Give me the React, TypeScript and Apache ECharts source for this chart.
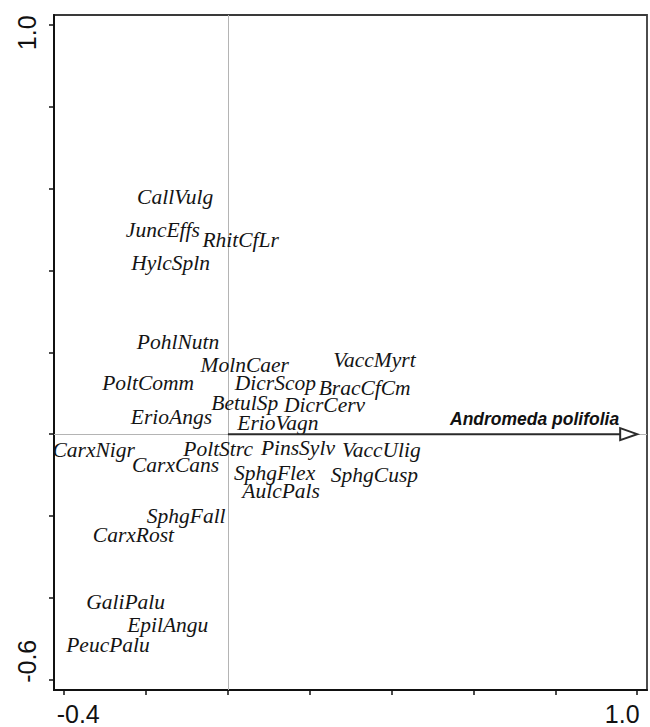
import React, { useEffect, useRef } from "react";
import * as echarts from "echarts";

// Species scores (axis 1, axis 2) shown as text labels
const speciesNames = [
  "CallVulg", "JuncEffs", "RhitCfLr", "HylcSpln", "PohlNutn", "MolnCaer",
  "PoltComm", "DicrScop", "BracCfCm", "VaccMyrt", "BetulSp", "DicrCerv",
  "ErioAngs", "ErioVagn", "CarxNigr", "PoltStrc", "CarxCans", "PinsSylv",
  "VaccUlig", "SphgFlex", "SphgCusp", "AulcPals", "SphgFall", "CarxRost",
  "GaliPalu", "EpilAngu", "PeucPalu",
];
const speciesX = [
  -0.129, -0.159, 0.031, -0.14, -0.122, 0.041,
  -0.195, 0.116, 0.334, 0.358, 0.041, 0.236,
  -0.138, 0.122, -0.328, -0.024, -0.128, 0.171,
  0.375, 0.114, 0.358, 0.13, -0.102, -0.231,
  -0.25, -0.147, -0.293,
];
const speciesY = [
  0.579, 0.498, 0.475, 0.419, 0.225, 0.169,
  0.125, 0.125, 0.112, 0.182, 0.076, 0.072,
  0.043, 0.027, -0.038, -0.037, -0.075, -0.034,
  -0.038, -0.095, -0.099, -0.138, -0.201, -0.246,
  -0.409, -0.466, -0.515,
];

// Explanatory variable arrow
const arrowNames = ["Andromeda polifolia"];
const arrowX = [1.0];
const arrowY = [0.0];

// Axis extents, ticks and the labelled tick values
const xRange = [-0.425, 1.024];
const yRange = [-0.625, 1.024];
const xTicks = [-0.4, -0.2, 0, 0.2, 0.4, 0.6, 0.8, 1.0];
const yTicks = [-0.6, -0.4, -0.2, 0, 0.2, 0.4, 0.6, 0.8, 1.0];
const xTickLabels = [-0.4, 1.0];
const yTickLabels = [-0.6, 1.0];

const SANS = "'Liberation Sans', Arial, sans-serif";
const SERIF = "'Liberation Serif', 'Times New Roman', serif";

export default function App() {
  const ref = useRef<HTMLDivElement>(null);

  useEffect(() => {
    if (!ref.current) return;
    const chart = echarts.init(ref.current, null, { renderer: "svg" });

    const option: any = {
      animation: false,
      backgroundColor: "#ffffff",
      grid: {
        left: 54,
        right: 3,
        top: 15,
        bottom: 37,
        show: true,
        borderColor: "#3a3a3a",
        borderWidth: 1.8,
        backgroundColor: "transparent",
      },
      xAxis: {
        type: "value",
        min: xRange[0],
        max: xRange[1],
        splitLine: { show: false },
        axisLine: {
          show: true,
          onZero: false,
          lineStyle: { color: "#111111", width: 2 },
        },
        axisTick: {
          show: true,
          customValues: xTicks,
          length: 5,
          lineStyle: { color: "#111111", width: 1.5 },
        },
        axisLabel: { show: false },
      },
      yAxis: {
        type: "value",
        min: yRange[0],
        max: yRange[1],
        splitLine: { show: false },
        axisLine: {
          show: true,
          onZero: false,
          lineStyle: { color: "#111111", width: 2 },
        },
        axisTick: {
          show: true,
          customValues: yTicks,
          length: 5,
          lineStyle: { color: "#111111", width: 1.5 },
        },
        axisLabel: { show: false },
      },
      series: [
        {
          // species names placed at their scores
          type: "custom",
          z: 3,
          encode: { x: 0, y: 1 },
          data: speciesNames.map((n, i) => [speciesX[i], speciesY[i]]),
          renderItem: (params: any, api: any) => {
            const p = api.coord([api.value(0), api.value(1)]);
            return {
              type: "text",
              x: p[0],
              y: p[1],
              style: {
                text: speciesNames[params.dataIndex],
                align: "center",
                verticalAlign: "middle",
                fontFamily: SERIF,
                fontStyle: "italic",
                fontSize: 21.5,
                fill: "#141414",
              },
            };
          },
          markLine: {
            silent: true,
            symbol: ["none", "none"],
            label: { show: false },
            lineStyle: { color: "#b4b4b4", width: 1, type: "solid", opacity: 1 },
            emphasis: { disabled: true },
            data: [{ xAxis: 0 }, { yAxis: 0 }],
            z: 1,
          },
        },
        {
          type: "custom",
          z: 4,
          encode: { x: [0, 2], y: [1, 3] },
          data: arrowNames.map((n, i) => [0, 0, arrowX[i], arrowY[i]]),
          renderItem: (params: any, api: any) => {
            const s = api.coord([api.value(0), api.value(1)]);
            const e = api.coord([api.value(2), api.value(3)]);
            const name = arrowNames[params.dataIndex];
            const headLen = 17;
            const headHalf = 6;
            return {
              type: "group",
              children: [
                {
                  type: "line",
                  shape: { x1: s[0], y1: s[1], x2: e[0] - headLen, y2: e[1] },
                  style: { stroke: "#2a2a2a", lineWidth: 2 },
                },
                {
                  type: "polygon",
                  shape: {
                    points: [
                      [e[0] - headLen, e[1] - headHalf],
                      [e[0], e[1]],
                      [e[0] - headLen, e[1] + headHalf],
                    ],
                  },
                  style: { fill: "#ffffff", stroke: "#2a2a2a", lineWidth: 2 },
                },
                {
                  type: "text",
                  x: e[0] - headLen - 1,
                  y: e[1] - 15,
                  style: {
                    text: name,
                    align: "right",
                    verticalAlign: "middle",
                    fontFamily: SANS,
                    fontStyle: "italic",
                    fontWeight: "bold",
                    fontSize: 17.5,
                    fill: "#111111",
                  },
                },
              ],
            };
          },
        },
      ],
    };

    chart.setOption(option);

    // End tick labels, drawn at the tick positions and pulled inward
    const graphics: any[] = [];
    const xBase = chart.convertToPixel({ yAxisIndex: 0 }, yRange[0]) as number;
    xTickLabels.forEach((v, i) => {
      const px = chart.convertToPixel({ xAxisIndex: 0 }, v) as number;
      const shift = i === 0 ? 14 : -15;
      graphics.push({
        type: "text",
        x: px + shift,
        y: xBase + 24,
        style: {
          text: v.toFixed(1),
          align: "center",
          verticalAlign: "middle",
          fontFamily: SANS,
          fontSize: 25,
          fill: "#111111",
        },
      });
    });
    const yBase = chart.convertToPixel({ xAxisIndex: 0 }, xRange[0]) as number;
    yTickLabels.forEach((v, i) => {
      const py = chart.convertToPixel({ yAxisIndex: 0 }, v) as number;
      const shift = i === 0 ? -18.5 : 8;
      graphics.push({
        type: "text",
        x: yBase - 27,
        y: py + shift,
        rotation: Math.PI / 2,
        style: {
          text: v.toFixed(1),
          align: "center",
          verticalAlign: "middle",
          fontFamily: SANS,
          fontSize: 25,
          fill: "#111111",
        },
      });
    });
    chart.setOption({ graphic: graphics });

    return () => chart.dispose();
  }, []);

  return (
    <div
      ref={ref}
      style={{ position: "absolute", left: 0, top: 0, width: 650, height: 727 }}
    />
  );
}
